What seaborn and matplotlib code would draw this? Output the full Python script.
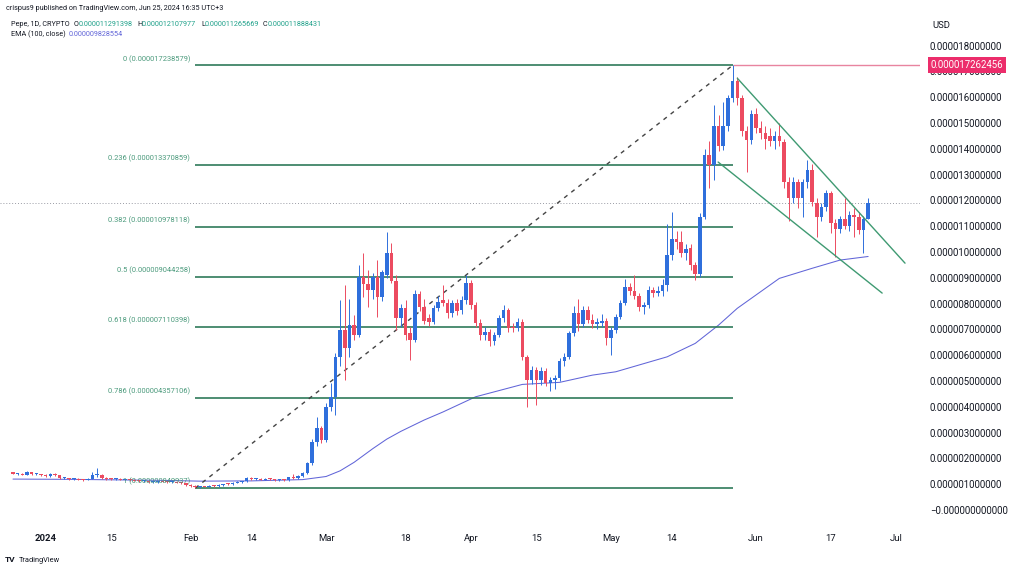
import numpy as np
import pandas as pd
import matplotlib
matplotlib.use('Agg')
import matplotlib.pyplot as plt
import matplotlib.dates as mdates
import matplotlib.transforms as mtransforms
from matplotlib.ticker import FuncFormatter
import seaborn as sns

# ---------------- data (prices in units of 1e-6 USD) ----------------
first_day = '2023-12-25'

open_u = [1.46, 1.40, 1.41, 1.37, 1.46, 1.38, 1.39, 1.34, 1.33, 1.40, 1.34, 1.23, 1.24, 1.20, 1.21, 1.18,
          1.17, 1.22, 1.34, 1.36, 1.23, 1.21, 1.19, 1.21, 1.18, 1.20, 1.15, 1.14, 1.11, 1.13, 1.08, 1.10,
          1.12, 1.10, 1.07, 1.09, 1.05, 1.03, 0.97, 0.93, 0.90, 0.92, 0.90, 0.94, 0.93, 0.97, 1.00, 0.99,
          1.06, 1.10, 1.12, 1.26, 1.21, 1.22, 1.18, 1.21, 1.19, 1.17, 1.19, 1.16, 1.28, 1.23, 1.32, 1.43,
          1.81, 2.65, 3.17, 2.71, 3.98, 4.37, 5.94, 6.98, 6.27, 7.17, 6.78, 9.04, 8.76, 8.53, 9.04, 8.24,
          9.10, 9.95, 8.89, 7.43, 7.82, 6.85, 6.59, 8.37, 7.88, 7.43, 7.30, 7.82, 8.14, 8.01, 7.62, 8.01,
          7.75, 8.14, 8.81, 7.95, 7.24, 6.78, 6.91, 6.56, 6.78, 7.43, 7.75, 7.10, 7.04, 7.30, 5.94, 5.04,
          5.43, 5.04, 5.40, 4.91, 5.04, 5.12, 5.79, 5.94, 6.86, 7.65, 7.23, 7.75, 7.36, 7.20, 7.25, 7.34,
          6.68, 6.98, 7.49, 8.03, 8.64, 8.50, 8.30, 7.88, 7.94, 8.52, 8.40, 8.50, 8.73, 9.88, 10.50, 10.40,
          9.95, 10.15, 9.50, 9.15, 11.37, 13.76, 13.37, 14.88, 14.10, 14.90, 15.96, 16.64, 15.96, 14.70, 14.34, 15.37,
          14.80, 14.60, 14.50, 14.30, 14.50, 14.28, 12.72, 12.10, 12.72, 12.10, 12.72, 13.18, 11.90, 11.37, 11.76, 12.28,
          11.12, 10.90, 11.30, 11.00, 11.45, 11.37, 10.85, 11.291398]
high_u = [1.49, 1.44, 1.44, 1.50, 1.49, 1.42, 1.41, 1.38, 1.44, 1.43, 1.36, 1.28, 1.26, 1.24, 1.23, 1.22,
          1.26, 1.48, 1.62, 1.40, 1.27, 1.24, 1.23, 1.24, 1.22, 1.23, 1.19, 1.17, 1.16, 1.15, 1.12, 1.14,
          1.16, 1.13, 1.12, 1.12, 1.08, 1.06, 1.00, 0.96, 0.94, 0.95, 0.96, 0.97, 0.99, 1.02, 1.04, 1.08,
          1.13, 1.14, 1.30, 1.29, 1.25, 1.24, 1.23, 1.24, 1.22, 1.21, 1.22, 1.30, 1.40, 1.35, 1.47, 1.88,
          2.75, 3.62, 3.25, 4.13, 4.91, 6.10, 8.14, 8.72, 8.20, 7.56, 9.50, 9.95, 9.30, 9.20, 9.70, 9.30,
          10.79, 10.34, 9.10, 8.00, 8.14, 7.10, 8.53, 8.50, 8.20, 7.60, 7.95, 8.30, 8.72, 8.20, 8.15, 8.20,
          8.30, 9.10, 8.90, 8.05, 7.40, 7.10, 7.00, 6.90, 7.55, 7.95, 7.85, 7.25, 7.45, 7.40, 6.00, 5.60,
          5.55, 5.55, 5.50, 5.15, 5.25, 5.90, 6.10, 6.95, 7.90, 8.20, 7.90, 7.90, 7.60, 7.45, 7.60, 7.45,
          7.10, 7.60, 8.15, 8.95, 8.80, 9.10, 8.40, 8.05, 8.70, 8.65, 8.70, 8.95, 11.10, 11.56, 10.80, 10.80,
          10.30, 10.30, 9.60, 11.50, 14.00, 14.30, 15.70, 15.30, 15.80, 16.10, 17.238579, 16.80, 16.10, 14.90, 15.50, 15.60,
          15.10, 14.90, 14.80, 14.70, 15.00, 14.40, 12.90, 12.90, 12.85, 12.85, 13.57, 13.40, 12.10, 11.90, 12.40, 12.35,
          11.30, 11.40, 12.10, 11.60, 11.70, 11.55, 11.40, 12.107977]
low_u = [1.38, 1.36, 1.35, 1.35, 1.36, 1.34, 1.31, 1.30, 1.30, 1.32, 1.21, 1.19, 1.17, 1.16, 1.15, 1.14,
         1.15, 1.20, 1.30, 1.21, 1.18, 1.17, 1.16, 1.17, 1.15, 1.13, 1.11, 1.09, 1.07, 1.06, 1.04, 1.06,
         1.08, 1.05, 1.04, 1.03, 0.99, 0.94, 0.90, 0.849937, 0.87, 0.88, 0.88, 0.90, 0.91, 0.94, 0.96, 0.97,
         1.03, 1.06, 1.10, 1.18, 1.17, 1.16, 1.15, 1.16, 1.14, 1.13, 1.14, 1.14, 1.20, 1.20, 1.29, 1.40,
         1.75, 2.50, 2.60, 2.65, 3.85, 3.68, 5.60, 5.04, 5.94, 6.60, 6.70, 8.27, 7.88, 8.20, 7.50, 8.10,
         9.00, 8.80, 6.97, 7.10, 6.60, 5.81, 6.50, 7.70, 7.20, 7.15, 7.20, 7.70, 7.90, 7.45, 7.50, 7.55,
         7.60, 8.00, 7.80, 7.10, 6.60, 6.60, 6.35, 6.40, 6.70, 7.30, 6.90, 6.90, 6.95, 5.80, 4.01, 4.90,
         4.07, 4.85, 4.80, 4.60, 4.70, 5.00, 5.60, 5.85, 6.75, 6.95, 7.10, 7.25, 7.05, 7.00, 7.10, 6.40,
         6.00, 6.85, 7.40, 7.95, 8.35, 8.20, 7.70, 7.60, 7.85, 8.25, 8.30, 8.30, 8.50, 9.70, 10.10, 9.80,
         9.70, 9.30, 8.90, 9.05, 11.30, 12.50, 12.80, 13.90, 13.95, 14.70, 15.80, 15.70, 14.50, 13.10, 14.20, 14.60,
         14.40, 14.00, 14.10, 14.00, 14.10, 12.50, 11.20, 11.90, 11.70, 11.37, 12.50, 11.80, 10.60, 11.20, 11.60, 10.72,
         9.82, 10.75, 10.90, 10.80, 10.60, 10.70, 9.96, 11.265669]
close_u = [1.40, 1.41, 1.37, 1.46, 1.38, 1.39, 1.34, 1.33, 1.40, 1.34, 1.23, 1.24, 1.20, 1.21, 1.18, 1.17,
           1.22, 1.34, 1.36, 1.23, 1.21, 1.19, 1.21, 1.18, 1.20, 1.15, 1.14, 1.11, 1.13, 1.08, 1.10, 1.12,
           1.10, 1.07, 1.09, 1.05, 1.03, 0.97, 0.93, 0.90, 0.92, 0.90, 0.94, 0.93, 0.97, 1.00, 0.99, 1.06,
           1.10, 1.12, 1.26, 1.21, 1.22, 1.18, 1.21, 1.19, 1.17, 1.19, 1.16, 1.28, 1.23, 1.32, 1.43, 1.81,
           2.65, 3.17, 2.71, 3.98, 4.37, 5.94, 6.98, 6.27, 7.17, 6.78, 9.04, 8.76, 8.53, 9.04, 8.24, 9.24,
           9.95, 8.89, 7.43, 7.82, 6.78, 6.59, 8.37, 7.88, 7.33, 7.30, 7.82, 8.07, 8.01, 7.62, 8.01, 7.70,
           8.14, 8.81, 7.95, 7.24, 6.78, 6.91, 6.56, 6.78, 7.43, 7.75, 7.04, 7.04, 7.30, 5.94, 5.04, 5.43,
           5.04, 5.40, 4.91, 5.04, 5.12, 5.79, 5.94, 6.86, 7.65, 7.23, 7.75, 7.36, 7.20, 7.30, 7.34, 6.68,
           6.98, 7.49, 8.03, 8.64, 8.50, 8.30, 7.88, 7.94, 8.52, 8.40, 8.50, 8.73, 9.88, 10.50, 10.40, 9.95,
           10.10, 9.50, 9.15, 11.37, 13.76, 13.37, 14.88, 14.10, 14.90, 15.96, 16.64, 15.96, 14.70, 14.34, 15.37, 14.80,
           14.60, 14.40, 14.30, 14.50, 14.30, 12.72, 12.10, 12.72, 12.10, 12.72, 13.18, 11.96, 11.37, 11.76, 12.28, 11.12,
           10.90, 11.30, 11.00, 11.45, 11.37, 10.85, 11.29, 11.888431]

ema_dates = ['2023-12-25', '2024-01-06', '2024-01-16', '2024-01-26', '2024-02-03', '2024-02-14',
             '2024-02-25', '2024-03-01', '2024-03-04', '2024-03-07', '2024-03-11', '2024-03-14',
             '2024-03-17', '2024-03-22', '2024-03-26', '2024-04-02', '2024-04-12', '2024-04-20',
             '2024-04-27', '2024-05-02', '2024-05-13', '2024-05-19', '2024-05-24', '2024-05-28',
             '2024-06-06', '2024-06-13', '2024-06-19', '2024-06-25']
ema_u = [1.20, 1.19, 1.17, 1.15, 1.12, 1.13, 1.18, 1.30, 1.52, 1.85, 2.38, 2.75, 3.05, 3.49,
         3.80, 4.39, 4.87, 4.95, 5.23, 5.36, 5.94, 6.46, 7.17, 7.82, 8.98, 9.37, 9.69, 9.828554]

fib_ratios = [0, 0.236, 0.382, 0.5, 0.618, 0.786, 1]
fib_levels_u = [17.238579, 13.370859, 10.978118, 9.044258, 7.110398, 4.357106, 0.849937]
fib_start, fib_end = '2024-02-02', '2024-05-27'

wedge_upper_dates = ['2024-05-28', '2024-07-02 21:30']
wedge_upper_u = [16.74, 9.57]
wedge_lower_dates = ['2024-05-23 21:30', '2024-06-28']
wedge_lower_u = [13.49, 8.41]

ray_level_u = 17.262456

x_tick_dates = ['2024-01-01', '2024-01-15', '2024-02-01', '2024-02-14', '2024-03-01', '2024-03-18',
                '2024-04-01', '2024-04-15', '2024-05-01', '2024-05-14', '2024-06-01', '2024-06-17',
                '2024-07-01']
x_tick_labels = ['2024', '15', 'Feb', '14', 'Mar', '18', 'Apr', '15', 'May', '14', 'Jun', '17', 'Jul']
y_ticks_u = list(range(0, 19))

# ---------------- style ----------------
sns.set_theme(style='white')
plt.rcParams['font.family'] = ['Roboto', 'DejaVu Sans']
plt.rcParams['axes.unicode_minus'] = True

UP = '#2f6fdc'
DOWN = '#ec4b60'
FIB_C = '#2f7a5a'
FIB_TXT = '#4b9a7c'
WEDGE_C = '#3f9a72'
EMA_C = '#6165d8'
TXT = '#131722'
S = 1e-6

fig = plt.figure(figsize=(10.24, 5.70), dpi=100)
fig.patch.set_facecolor('white')
ax = fig.add_axes([0, 45 / 570, 920 / 1024, 510 / 570])
ax.set_facecolor('white')

def dnum(s):
    return mdates.date2num(pd.Timestamp(s).to_pydatetime())

dates = pd.date_range(first_day, periods=len(close_u), freq='D')
x = mdates.date2num(dates.to_pydatetime())
o = np.array(open_u) * S
h = np.array(high_u) * S
l = np.array(low_u) * S
c = np.array(close_u) * S
colors = np.where(c >= o, UP, DOWN)

# EMA (seaborn)
ema_x = np.array([dnum(d) for d in ema_dates])
sns.lineplot(x=ema_x, y=np.array(ema_u) * S, ax=ax, color=EMA_C, lw=0.75, zorder=2, sort=False)

# fib retracement
fx0, fx1 = dnum(fib_start), dnum(fib_end)
for r, lv in zip(fib_ratios, fib_levels_u):
    ax.hlines(lv * S, fx0, fx1, color=FIB_C, lw=1.2, zorder=2)
    ax.annotate(f"{r:g} ({lv * S:.12f})", (fx0, lv * S), xytext=(-3.5, 1.8),
                textcoords='offset points', ha='right', va='bottom', fontsize=5.4,
                color=FIB_TXT, zorder=6)
ax.plot([fx0, fx1], [fib_levels_u[-1] * S, fib_levels_u[0] * S], color='#444444',
        lw=1.0, ls=(0, (3, 3.5)), zorder=2)

# wedge
ax.plot([dnum(d) for d in wedge_upper_dates], np.array(wedge_upper_u) * S, color=WEDGE_C, lw=1.0, zorder=5)
ax.plot([dnum(d) for d in wedge_lower_dates], np.array(wedge_lower_u) * S, color=WEDGE_C, lw=1.0, zorder=5)

# candles
ax.vlines(x, l, h, colors=colors, lw=0.7, zorder=3)
body = np.maximum(np.abs(c - o), 0.04 * S)
ax.bar(x, body, bottom=np.minimum(o, c), width=0.76, color=colors, lw=0, zorder=4)

# axes limits
x_left = dnum('2024-01-01') - 9.78
x_right = dnum('2024-01-01') + 187.1
ax.set_xlim(x_left, x_right)
ax.set_ylim(-0.58 * S, 19.19 * S)

# current price dotted line and ray
ax.axhline(c[-1], color='#9a9ca5', lw=0.7, ls=(0, (1, 2)), zorder=1)
ax.hlines(ray_level_u * S, fx1, x_right, color='#e8849f', lw=1.0, zorder=2)

# ticks
ax.yaxis.tick_right()
ax.set_yticks(np.array(y_ticks_u) * S)
ax.yaxis.set_major_formatter(FuncFormatter(
    lambda v, p: '\u22120.000000000000' if abs(v) < 1e-13 else f"{v:.12f}"))
ax.set_xticks([dnum(d) for d in x_tick_dates])
ax.set_xticklabels(x_tick_labels)
ax.get_xticklabels()[0].set_fontweight('bold')
ax.tick_params(axis='y', length=0, pad=7.2, labelsize=6.9, labelcolor=TXT)
ax.tick_params(axis='x', length=0, pad=6.8, labelsize=6.8, labelcolor=TXT)
for s in ax.spines.values():
    s.set_visible(False)
ax.grid(False)

# last-price style label of ray
trans = mtransforms.blended_transform_factory(ax.transAxes, ax.transData)
ax.text(1.0115, ray_level_u * S, f"{ray_level_u * S:.12f}", transform=trans, ha='left', va='center',
        color='white', fontsize=6.9, zorder=10, clip_on=False,
        bbox=dict(boxstyle='square,pad=0.3', fc='#ec2d6b', ec='none'))

# header
def ftxt(px, py, s, **kw):
    fig.text(px / 1024, 1 - py / 570, s, va='center', ha='left', zorder=20, **kw)

ftxt(6, 9, 'crispus9 published on TradingView.com, Jun 25, 2024 16:35 UTC+3', fontsize=5.2, color=TXT)
GREEN = '#1fa18a'
ftxt(11, 24.7, 'Pepe, 1D, CRYPTO', fontsize=5.2, color=TXT)
ftxt(74, 24.7, 'O', fontsize=5.2, color=TXT)
ftxt(79, 24.7, f"{open_u[-1] * S:.12f}", fontsize=5.2, color=GREEN)
ftxt(137.5, 24.7, 'H', fontsize=5.2, color=TXT)
ftxt(141.7, 24.7, f"{high_u[-1] * S:.12f}", fontsize=5.2, color=GREEN)
ftxt(201, 24.7, 'L', fontsize=5.2, color=TXT)
ftxt(205, 24.7, f"{low_u[-1] * S:.12f}", fontsize=5.2, color=GREEN)
ftxt(263, 24.7, 'C', fontsize=5.2, color=TXT)
ftxt(267.3, 24.7, f"{close_u[-1] * S:.12f}", fontsize=5.2, color=GREEN)
ftxt(11, 34.3, 'EMA (100, close)', fontsize=5.2, color=TXT)
ftxt(69, 34.3, f"{ema_u[-1] * S:.12f}", fontsize=5.2, color=EMA_C)
ftxt(932, 25, 'USD', fontsize=6.8, color=TXT)

# footer logo
ftxt(5, 560, 'TV', fontsize=6, color=TXT, fontweight='bold')
ftxt(19, 560, 'TradingView', fontsize=5.3, color=TXT)

fig.savefig('out.png', dpi=100, facecolor='white')
